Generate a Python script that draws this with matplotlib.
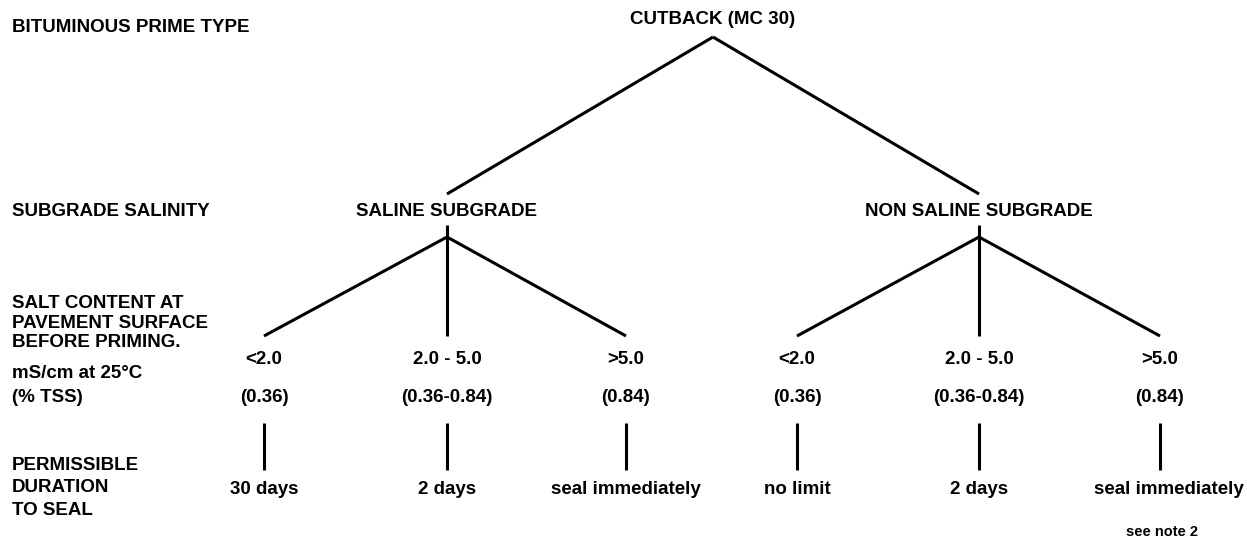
import matplotlib.pyplot as plt

# decision tree content
level_labels = ["BITUMINOUS PRIME TYPE", "SUBGRADE SALINITY",
                "SALT CONTENT AT\nPAVEMENT SURFACE\nBEFORE PRIMING.",
                "mS/cm at 25°C", "(% TSS)",
                "PERMISSIBLE\nDURATION\nTO SEAL"]
prime_type = "CUTBACK (MC 30)"
salinity = ["SALINE SUBGRADE", "NON SALINE SUBGRADE"]
salt_ranges = ["<2.0", "2.0 - 5.0", ">5.0", "<2.0", "2.0 - 5.0", ">5.0"]
tss_values = ["(0.36)", "(0.36-0.84)", "(0.84)", "(0.36)", "(0.36-0.84)", "(0.84)"]
durations = ["30 days", "2 days", "seal immediately",
             "no limit", "2 days", "seal immediately"]
note = "see note 2"

plt.rcParams['font.family'] = ['Liberation Sans', 'DejaVu Sans']
plt.rcParams['font.weight'] = 'bold'

fig = plt.figure(figsize=(12.47, 5.41), dpi=100)
ax = fig.add_axes([0, 0, 1, 1])
ax.set_xlim(0, 1247)
ax.set_ylim(541, 0)
ax.axis('off')

fs = 13.5
lw = 2.2
k = dict(color='black', lw=lw, solid_capstyle='butt')

# left hand level captions
ax.text(12, 28, level_labels[0], fontsize=fs, va='center')
ax.text(12, 212, level_labels[1], fontsize=fs, va='center')
ax.text(12, 323, level_labels[2], fontsize=fs, va='center', linespacing=1.22)
ax.text(12, 373, level_labels[3], fontsize=fs, va='center')
ax.text(12, 398, level_labels[4], fontsize=fs, va='center')
ax.text(12, 488, level_labels[5], fontsize=fs, va='center', linespacing=1.4)

# root
root_x = 713
ax.text(root_x, 20, prime_type, fontsize=fs, ha='center', va='center')
mid_x = [447, 979]
for mx in mid_x:
    ax.plot([root_x, mx], [37, 194], **k)

# second level
leaf_x = [264, 447, 626, 797, 979, 1160]
for i, mx in enumerate(mid_x):
    ax.text(mx, 212, salinity[i], fontsize=fs, ha='center', va='center')
    ax.plot([mx, mx], [225, 336], **k)
    ax.plot([leaf_x[3 * i], mx, leaf_x[3 * i + 2]], [336, 237, 336], **k)

# leaves
for i, lx in enumerate(leaf_x):
    ax.text(lx, 360, salt_ranges[i], fontsize=fs, ha='center', va='center')
    ax.text(lx, 398, tss_values[i], fontsize=fs, ha='center', va='center')
    ax.plot([lx, lx], [423, 470], **k)
    ax.text(lx + (9 if i == 5 else 0), 489, durations[i], fontsize=fs,
            ha='center', va='center')

ax.text(1162, 532, note, fontsize=10.5, ha='center', va='center')

fig.savefig('out.png', dpi=100)
